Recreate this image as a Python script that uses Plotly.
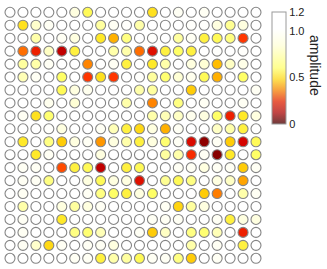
import plotly.graph_objects as go

columns = list(range(1, 21))
rows = list(range(1, 21))

r01 = [1.1,1.1,1.1,1.1,1.1,0.85,0.58,1.1,1.1,1.05, 1.0,0.5,1.1,0.92,1.0,0.92,1.0,1.0,1.1,1.1]
r02 = [1.1,0.5,0.8,0.92,1.1,1.0,1.1,0.7,0.92,0.95, 0.72,1.1,1.1,1.05,0.95,0.95,0.85,0.68,0.85,1.1]
r03 = [1.1,1.1,0.72,1.05,0.92,0.85,1.1,0.52,0.4,0.65, 1.05,0.95,1.0,0.7,0.92,0.55,0.58,0.65,0.22,1.1]
r04 = [1.1,0.3,0.18,0.78,0.1,0.55,1.1,1.05,0.72,0.72, 0.3,0.15,0.55,0.6,0.55,1.1,0.95,1.1,0.95,1.1]
r05 = [1.1,0.7,0.72,0.92,1.1,1.05,0.33,1.1,0.92,0.55, 1.0,0.52,0.72,1.05,0.85,0.82,0.42,0.78,0.88,1.1]
r06 = [1.1,0.75,0.92,1.05,0.6,1.05,0.22,0.5,0.22,1.05, 0.95,0.7,0.62,0.82,0.9,0.58,0.4,1.05,0.6,1.1]
r07 = [1.1,1.1,1.1,1.1,0.58,0.85,0.9,1.1,1.1,1.05, 0.72,0.7,1.1,1.1,0.45,1.1,1.1,1.1,1.05,0.92]
r08 = [1.1,1.1,1.1,0.9,1.1,0.82,1.1,1.1,1.1,0.72, 1.1,0.33,1.1,0.65,1.1,0.92,1.1,1.1,0.92,1.1]
r09 = [1.1,0.92,0.5,0.62,1.1,1.1,1.1,1.1,1.1,1.05, 1.1,0.72,0.75,0.78,0.9,0.85,0.6,0.18,0.52,0.85]
r10 = [1.1,1.1,1.1,0.95,0.85,1.1,1.1,0.92,0.75,0.55, 0.48,0.85,0.4,0.92,1.05,1.0,0.78,0.72,0.55,1.0]
r11 = [1.1,0.52,1.1,0.65,0.45,0.85,0.92,0.36,0.85,0.72, 0.55,0.85,0.62,0.92,0.14,0.03,0.92,0.45,0.13,0.58]
r12 = [1.1,1.1,0.52,0.92,1.1,1.1,1.1,0.85,1.1,1.1, 1.1,1.1,0.7,0.72,0.2,0.92,0.02,0.52,1.1,0.6]
r13 = [1.1,0.92,0.92,1.1,0.25,0.55,0.58,0.1,1.1,0.55, 0.58,1.1,1.1,0.92,0.92,0.85,0.92,0.92,0.45,0.92]
r14 = [1.1,0.92,0.92,0.65,1.1,1.1,0.85,0.58,0.85,0.85, 0.15,1.1,0.68,0.58,0.65,1.1,0.85,0.78,0.38,1.1]
r15 = [1.1,0.92,1.1,1.1,1.1,1.1,0.92,0.65,0.6,0.55, 0.85,0.6,1.1,1.1,1.1,0.45,0.32,1.1,0.72,0.92]
r16 = [1.1,0.72,1.1,1.1,0.85,0.7,0.85,0.92,1.1,1.1, 1.1,1.1,0.92,0.47,0.7,0.85,1.1,1.1,1.1,1.1]
r17 = [1.1,0.92,1.1,1.1,0.52,1.1,1.1,1.1,1.1,1.1, 1.1,0.92,0.92,0.92,1.1,1.1,0.92,0.55,0.85,0.85]
r18 = [1.1,0.92,1.1,1.1,1.1,0.65,0.62,0.75,1.1,1.1, 0.92,0.45,0.78,1.1,0.65,0.62,0.75,1.1,0.18,1.1]
r19 = [1.1,0.92,0.8,0.48,0.92,1.1,0.92,0.92,0.85,1.1, 1.1,1.1,1.1,1.1,0.72,1.1,0.92,1.1,0.55,1.1]
r20 = [1.1,1.1,1.1,1.1,1.1,0.92,0.92,0.55,0.72,0.7, 0.58,0.92,0.92,0.65,0.45,1.1,0.92,1.1,1.1,1.1]

colorbar_ticks = [0, 0.5, 1.0, 1.2]
colorbar_labels = ["0", "0.5", "1.0", "1.2"]
value_min, value_max = 0, 1.2

grid = [r01, r02, r03, r04, r05, r06, r07, r08, r09, r10,
        r11, r12, r13, r14, r15, r16, r17, r18, r19, r20]

xs, ys, vs = [], [], []
for ri, rowvals in zip(rows, grid):
    for ci, v in zip(columns, rowvals):
        xs.append(ci)
        ys.append(ri)
        vs.append(v)

marker_scale = [
    [0.0, "#780000"],
    [0.1, "#d00000"],
    [0.18, "#ff3300"],
    [0.28, "#ff8800"],
    [0.36, "#ffc400"],
    [0.43, "#ffe826"],
    [0.5, "#ffff66"],
    [0.6, "#ffffaa"],
    [0.7, "#ffffdd"],
    [0.8, "#ffffff"],
    [1.0, "#ffffff"],
]
bar_scale = [
    [0.0, "#6e3b3b"],
    [0.1, "#c04545"],
    [0.2, "#e85a40"],
    [0.3, "#f7a040"],
    [0.4, "#fde050"],
    [0.5, "#ffff90"],
    [0.7, "#ffffe0"],
    [0.85, "#ffffff"],
    [1.0, "#ffffff"],
]

fig = go.Figure()
fig.add_trace(go.Scatter(
    x=xs, y=ys, mode="markers", hoverinfo="skip", showlegend=False,
    marker=dict(size=10, color=vs, colorscale=marker_scale, cmin=value_min, cmax=value_max,
                showscale=False, line=dict(color="#858585", width=1.1)),
))
fig.add_trace(go.Scatter(
    x=[None], y=[None], mode="markers", hoverinfo="skip", showlegend=False,
    marker=dict(size=1, color=[value_min], colorscale=bar_scale, cmin=value_min, cmax=value_max,
                showscale=True,
                colorbar=dict(xref="container", yref="container", x=272/327, xanchor="left",
                              y=1-12/269, yanchor="top", len=112, lenmode="pixels",
                              thickness=14, thicknessmode="pixels", xpad=0, ypad=0,
                              outlinecolor="#9a9a9a", outlinewidth=1,
                              tickvals=colorbar_ticks, ticktext=colorbar_labels,
                              ticks="", ticklabelposition="outside",
                              tickfont=dict(family="Liberation Sans, Arial", size=11, color="#222"))),
))

u = 12.947
fig.update_layout(
    width=327, height=269,
    margin=dict(l=0, r=61, t=0, b=0, pad=0, autoexpand=False),
    paper_bgcolor="white", plot_bgcolor="white",
    xaxis=dict(range=[1 - 10/u, 1 - 10/u + 266/u], visible=False, fixedrange=True),
    yaxis=dict(range=[1 - 12.3/u + 269/u, 1 - 12.3/u], visible=False, fixedrange=True),
    font=dict(family="Liberation Sans, Arial", color="#222"),
    annotations=[dict(text="amplitude", xref="paper", yref="paper",
                      x=315/266, y=1 - 65/269, showarrow=False, textangle=90,
                      font=dict(size=14, family="Liberation Sans, Arial", color="#222"),
                      xanchor="center", yanchor="middle")],
)
fig.write_html("out.html", config={"displayModeBar": False},
               post_script="document.body.style.margin='0px';document.body.style.overflow='hidden';")
